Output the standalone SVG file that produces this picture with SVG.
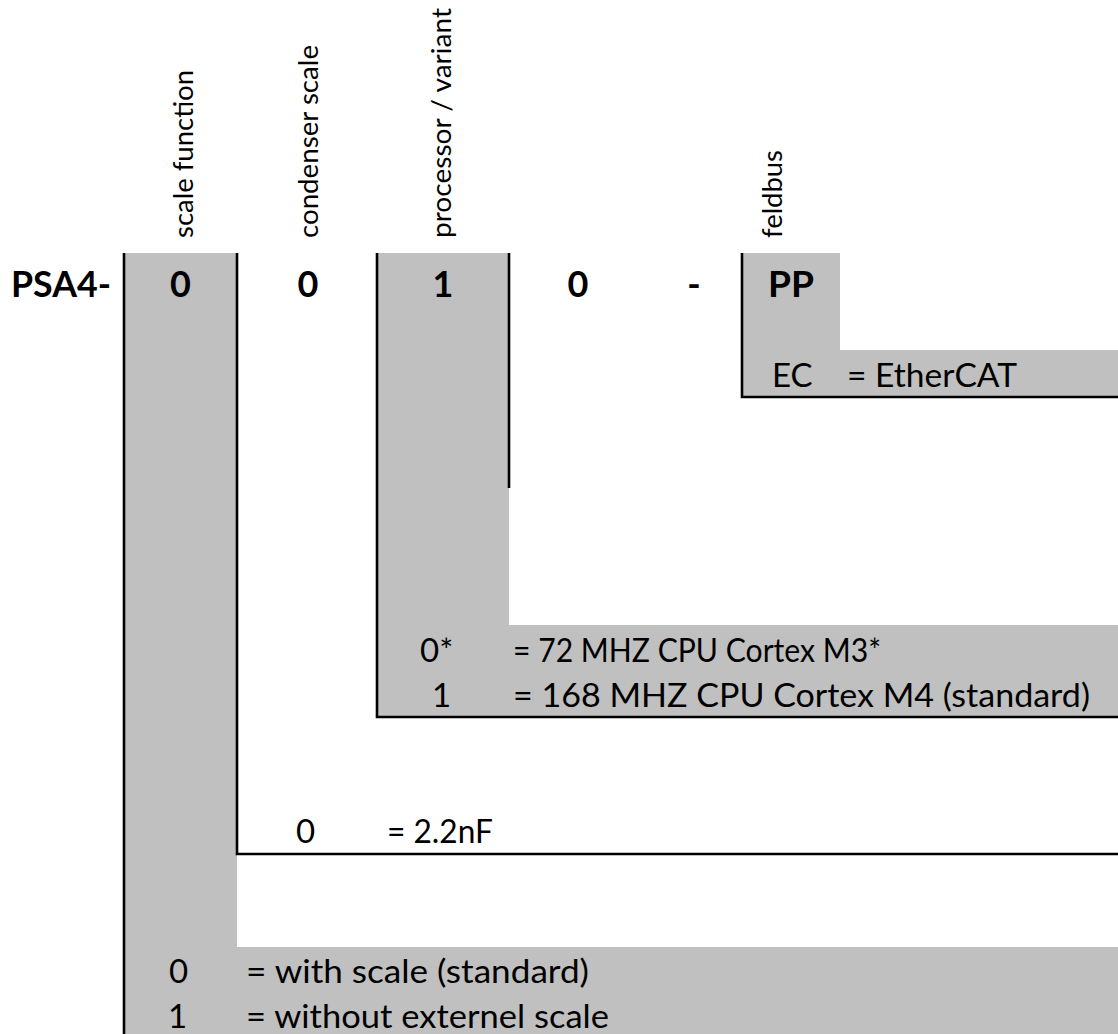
<svg xmlns="http://www.w3.org/2000/svg" width="1118" height="1034" viewBox="0 0 1118 1034">
  <style>
    .fill { fill: #C0C0C0; stroke: none; }
    .ln { fill: none; stroke: #000; stroke-width: 2.6; stroke-linejoin: miter; stroke-linecap: butt; }
    .lbl { font-family: Lato, "Liberation Sans", sans-serif; font-size: 27px; fill: #000; }
    .code { font-family: Lato, "Liberation Sans", sans-serif; font-size: 36px; font-weight: bold; fill: #000; }
    .txt { font-family: Lato, "Liberation Sans", sans-serif; font-size: 33px; fill: #000; }
  </style>
  <rect width="1118" height="1034" fill="#fff"/>

  <g id="prefix">
    <text class="code" x="11" y="297" textLength="100" lengthAdjust="spacingAndGlyphs">PSA4-</text>
  </g>

  <g id="scale-function">
    <path class="fill" d="M124,253 H237 V947 H1118 V1034 H124 Z"/>
    <text class="lbl" transform="rotate(-90 193 238)" x="193" y="238" textLength="168" lengthAdjust="spacingAndGlyphs">scale function</text>
    <text class="code" x="180.5" y="297" text-anchor="middle">0</text>
    <text class="txt" x="169" y="983">0</text>
    <text class="txt" x="246" y="983" textLength="343" lengthAdjust="spacingAndGlyphs">= with scale (standard)</text>
    <text class="txt" x="168" y="1028">1</text>
    <text class="txt" x="246" y="1028" textLength="363" lengthAdjust="spacingAndGlyphs">= without externel scale</text>
  </g>

  <g id="condenser-scale">
    <text class="lbl" transform="rotate(-90 318 238)" x="318" y="238" textLength="193" lengthAdjust="spacingAndGlyphs">condenser scale</text>
    <text class="code" x="308" y="297" text-anchor="middle">0</text>
    <text class="txt" x="296" y="843">0</text>
    <text class="txt" x="387" y="843" textLength="106" lengthAdjust="spacingAndGlyphs">= 2.2nF</text>
  </g>

  <g id="processor-variant">
    <path class="fill" d="M377,253 H509 V625 H1118 V717 H377 Z"/>
    <text class="lbl" transform="rotate(-90 451 238)" x="451" y="238" textLength="230" lengthAdjust="spacingAndGlyphs">processor / variant</text>
    <text class="code" x="443" y="297" text-anchor="middle">1</text>
    <text class="txt" x="420" y="662">0*</text>
    <text class="txt" x="513" y="662" textLength="368" lengthAdjust="spacingAndGlyphs">= 72 MHZ CPU Cortex M3*</text>
    <text class="txt" x="432" y="707">1</text>
    <text class="txt" x="513" y="707" textLength="577" lengthAdjust="spacingAndGlyphs">= 168 MHZ CPU Cortex M4 (standard)</text>
  </g>

  <g id="digit-4">
    <text class="code" x="578" y="297" text-anchor="middle">0</text>
  </g>

  <g id="separator">
    <text class="code" x="694" y="297" text-anchor="middle">-</text>
  </g>

  <g id="feldbus">
    <path class="fill" d="M742,253 H840 V350 H1118 V397 H742 Z"/>
    <text class="lbl" transform="rotate(-90 782 238)" x="782" y="238" textLength="88" lengthAdjust="spacingAndGlyphs">feldbus</text>
    <text class="code" x="768" y="297" textLength="46" lengthAdjust="spacingAndGlyphs">PP</text>
    <text class="txt" x="772" y="387">EC</text>
    <text class="txt" x="847" y="387" textLength="170" lengthAdjust="spacingAndGlyphs">= EtherCAT</text>
  </g>

  <g id="connectors">
    <path class="ln" d="M124,253 V1034"/>
    <path class="ln" d="M237,253 V854 H1118"/>
    <path class="ln" d="M377,253 V717 H1118"/>
    <path class="ln" d="M509,253 V488"/>
    <path class="ln" d="M742,253 V397 H1118"/>
  </g>
</svg>
